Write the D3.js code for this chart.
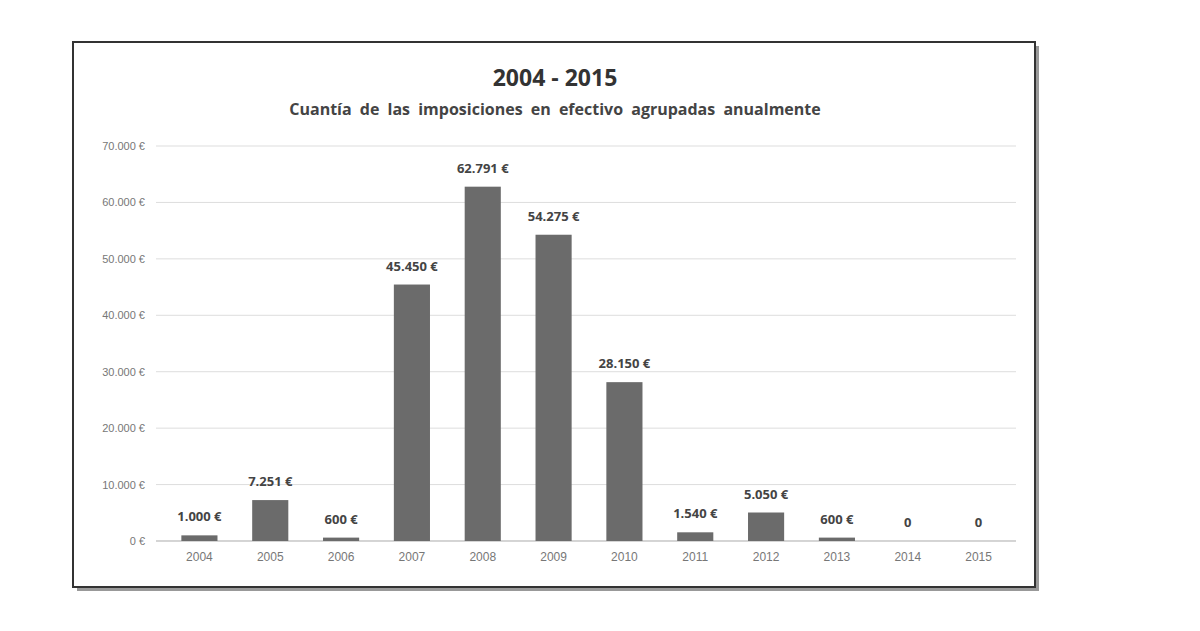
<!DOCTYPE html>
<html><head><meta charset="utf-8">
<script src="https://cdn.jsdelivr.net/npm/d3@7"></script>
<style>body{margin:0;background:#fff;font-family:"Open Sans",Calibri,sans-serif}</style>
</head><body><svg id="c" width="1200" height="631"></svg>
<script>
const years=["2004","2005","2006","2007","2008","2009","2010","2011","2012","2013","2014","2015"];
const values=[1000,7251,600,45450,62791,54275,28150,1540,5050,600,0,0];
const labels=["1.000 €","7.251 €","600 €","45.450 €","62.791 €","54.275 €","28.150 €","1.540 €","5.050 €","600 €","0","0"];
const yTicks=[0,10000,20000,30000,40000,50000,60000,70000];
const fmt=v=>(v===0?"0":d3.format(",")(v).replace(/,/g,"."))+" €";
const svg=d3.select("#c");
svg.append("rect").attr("x",77).attr("y",46).attr("width",962).attr("height",545).attr("fill","#999");
svg.append("rect").attr("x",73).attr("y",42).attr("width",962).attr("height",545).attr("fill","#fff").attr("stroke","#333").attr("stroke-width",2);
const x=d3.scaleBand().domain(years).range([164,1014]).paddingInner(0.49).paddingOuter(0.245);
const y=d3.scaleLinear().domain([0,70000]).range([541,146]);
svg.append("g").selectAll("line").data(yTicks).join("line").attr("x1",156).attr("x2",1016).attr("y1",d=>y(d)).attr("y2",d=>y(d)).attr("stroke","#ddd");
svg.append("g").attr("transform","translate(148,0)").call(d3.axisLeft(y).tickValues(yTicks).tickFormat(fmt).tickSize(0)).call(g=>g.select(".domain").remove()).selectAll("text").attr("font-size",11).attr("fill","#777");
svg.append("g").attr("transform","translate(0,547)").call(d3.axisBottom(x).tickSize(0)).call(g=>g.select(".domain").remove()).selectAll("text").attr("font-size",12).attr("fill","#777").attr("dy","0.9em");
svg.append("line").attr("x1",156).attr("x2",1016).attr("y1",541).attr("y2",541).attr("stroke","#bbb");
svg.append("g").selectAll("rect").data(values).join("rect").attr("x",(d,i)=>x(years[i])).attr("width",x.bandwidth()).attr("y",d=>y(d)).attr("height",d=>541-y(d)).attr("fill","#6b6b6b");
svg.append("g").selectAll("text").data(values).join("text").attr("x",(d,i)=>x(years[i])+x.bandwidth()/2).attr("y",d=>y(d)-14).attr("text-anchor","middle").attr("font-size",13).attr("font-weight","bold").attr("fill","#444").text((d,i)=>labels[i]);
svg.append("text").attr("x",555).attr("y",86).attr("text-anchor","middle").attr("font-size",23).attr("font-weight","bold").attr("fill","#333").text("2004 - 2015");
svg.append("text").attr("x",555).attr("y",115).attr("text-anchor","middle").attr("font-size",16).attr("word-spacing",4).attr("font-weight","bold").attr("fill","#444").text("Cuantía de las imposiciones en efectivo agrupadas anualmente");
</script></body></html>
